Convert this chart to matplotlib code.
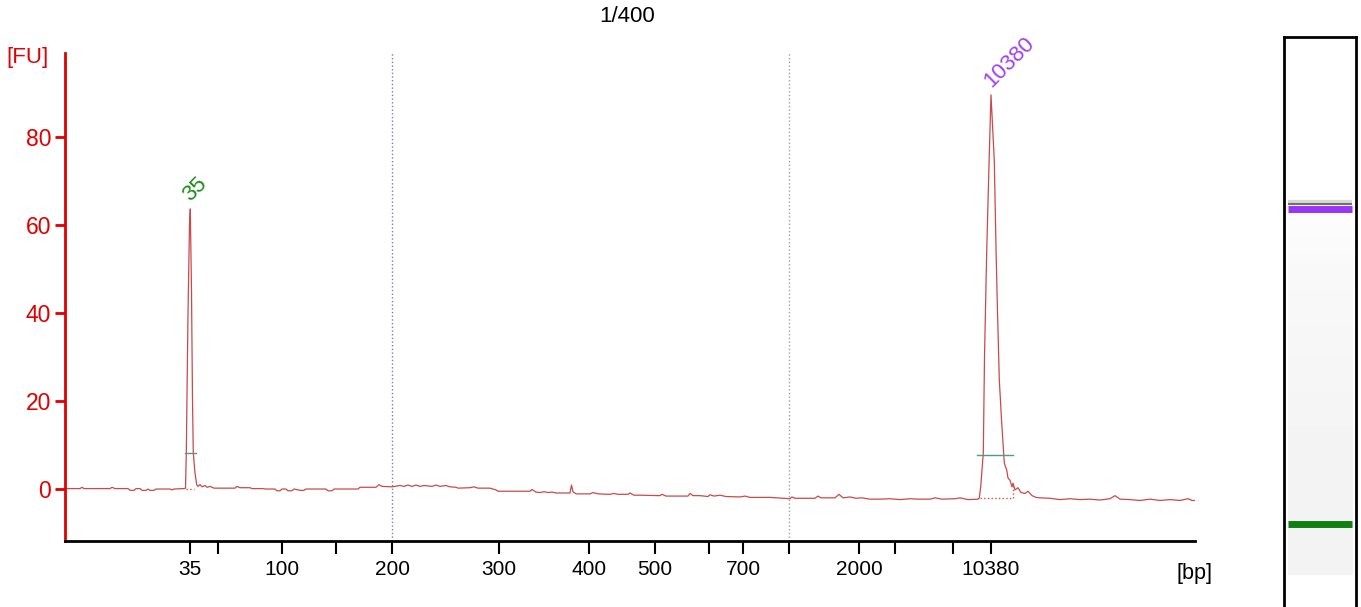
import numpy as np
import matplotlib.pyplot as plt

plt.rcParams['font.family'] = ['Liberation Sans', 'DejaVu Sans']

# ---- electropherogram trace (migration position, fluorescence) ----
trace_time = [
    0.0, 1.5, 1.7, 1.9, 4.5, 4.7, 5.0, 6.3, 6.5, 6.9, 7.1, 7.5, 7.7, 8.1, 8.3,
    8.5, 8.9, 9.1, 10.5, 10.7, 10.9, 11.9,
    12.05, 12.13, 12.3, 12.45, 12.53, 12.65, 12.75, 12.83, 13.0, 13.17, 13.3,
    13.5, 13.7, 14.0, 14.2, 14.5, 14.9, 17.0, 17.2, 17.5, 18.5, 18.7, 19.7,
    20.1, 21.0, 21.2, 21.5, 21.7, 22.1, 22.3, 22.7, 22.9, 23.5, 23.9, 24.1,
    26.1, 26.3, 26.7, 26.9, 29.3, 29.5, 31.1, 31.4, 31.7, 32.7, 33.5, 33.9,
    34.3, 34.7, 35.1, 35.5, 35.9, 36.7, 37.1, 37.5, 38.1, 38.5, 39.1, 39.3,
    40.5, 40.9, 41.3, 42.5, 43.1, 43.3, 46.5, 46.7, 47.1, 47.5, 47.9, 48.3,
    48.7, 49.1, 50.5, 50.65, 50.8, 51.1, 52.5, 52.8, 53.3, 54.5, 54.9, 55.3,
    56.3, 56.5, 56.9, 57.5, 59.5, 59.7, 60.1, 62.3, 62.5, 62.8, 63.5, 64.3,
    64.5, 64.9, 65.5, 66.1, 67.5, 68.0, 68.5, 70.5, 72.5, 72.7, 73.0, 75.0,
    75.3, 75.6, 77.0, 77.4, 77.8, 78.5, 79.1, 79.7, 80.5, 81.5, 82.5, 83.5,
    84.5, 85.3, 86.5, 87.0, 87.7, 89.0, 89.5, 90.3, 91.3,
    91.43, 91.57, 91.83, 91.95, 92.17, 92.43, 92.6, 92.93, 93.1, 93.23, 93.43,
    93.67, 93.93, 94.17, 94.3, 94.5, 94.7, 94.8, 95.0, 95.3, 95.6, 96.0, 96.3,
    96.7, 97.1, 97.5, 98.5, 99.5, 100.5, 101.5, 102.5, 103.5, 104.5, 105.0,
    105.5, 106.5, 107.5, 108.5, 109.5, 110.5, 111.5, 112.3, 112.7, 113.0,
]
trace_fu = [
    0.1, 0.1, 0.4, 0.1, 0.1, 0.4, 0.1, 0.1, -0.3, -0.3, 0.1, 0.1, -0.3, -0.3, 0.0,
    -0.3, -0.3, 0.0, 0.0, -0.2, 0.0, 0.1,
    0.2, 8.0, 40.0, 60.0, 63.6, 45.0, 20.0, 8.2, 3.6, 1.0, 0.6,
    1.0, 0.5, 0.8, 0.4, 0.6, 0.2, 0.2, 0.6, 0.3, 0.3, 0.1, 0.1,
    0.0, 0.0, -0.4, -0.4, 0.0, 0.0, -0.4, -0.4, 0.0, -0.3, -0.3, 0.0,
    0.0, -0.4, -0.4, 0.0, 0.0, 0.4, 0.4, 1.0, 0.6, 0.5, 0.8, 0.6,
    0.9, 0.6, 0.9, 0.6, 0.8, 0.6, 0.9, 0.6, 0.8, 0.5, 0.4, 0.2,
    0.3, 0.5, 0.2, 0.2, -0.2, -0.5, -0.5, -0.1, -0.7, -0.8, -0.6, -0.8,
    -0.7, -0.9, -0.9, 0.9, -0.6, -1.1, -1.1, -0.8, -1.1, -1.2, -1.0, -1.2,
    -1.2, -0.9, -1.4, -1.4, -1.5, -1.2, -1.6, -1.6, -1.0, -1.5, -1.5, -1.7,
    -1.3, -1.6, -1.4, -1.7, -1.8, -1.6, -1.9, -1.9, -2.2, -1.8, -2.1, -2.1,
    -1.6, -2.0, -2.0, -1.2, -2.0, -1.8, -2.1, -2.0, -2.3, -2.3, -2.2, -2.4,
    -2.2, -2.3, -2.3, -2.0, -2.3, -2.2, -2.0, -2.4, -2.3,
    -2.0, 0.5, 8.2, 30.0, 53.9, 76.1, 89.5, 74.5, 54.8, 42.0, 24.8,
    15.0, 5.9, 4.3, 2.5, 2.0, 0.5, 1.3, -0.2, 0.3, -0.8, -1.0, -0.5,
    -1.5, -1.9, -2.0, -2.1, -2.4, -2.2, -2.4, -2.3, -2.5, -2.2, -1.5,
    -2.3, -2.4, -2.6, -2.3, -2.6, -2.4, -2.6, -2.2, -2.6, -2.6,
]

# ---- ladder: migration position of each size ----
ladder_pos = [12.5, 15.3, 21.7, 27.1, 32.7, 43.4, 52.4, 59.0, 64.4, 67.8,
              72.4, 79.4, 83.0, 88.8, 92.6]
ladder_bp = [35, 50, 100, 150, 200, 300, 400, 500, 600, 700,
             1000, 2000, 3000, 7000, 10380]
labelled_bp = [35, 100, 200, 300, 400, 500, 700, 2000, 10380]

# ---- called peaks ----
peak_names = ['35', '10380']
peak_time = [12.53, 92.6]
peak_height = [63.6, 89.5]
peak_colors = ['#1a8a1a', '#a040f0']
peak_start = [12.1, 91.5]
peak_end = [12.9, 94.8]
peak_base = [0.1, -2.1]
peak_mark_fu = [8.2, 7.7]
peak_mark_from = [12.0, 91.2]
peak_mark_to = [13.1, 94.8]

# ---- gel lane ----
gel_band_pos = [0.699, 0.147]
gel_band_colors = ['#9a35f5', '#108010']
gel_bg_pos = [0.056, 0.30, 0.60, 0.70, 0.82]
gel_bg_gray = [0.955, 0.955, 0.965, 0.975, 1.0]

fig = plt.figure(figsize=(13.61, 6.07), dpi=100)
ax = fig.add_axes([65 / 1361, 1 - 541 / 607, 1130 / 1361, 488 / 607])

# dotted guide lines at 200 and 1000 bp
ax.axvline(ladder_pos[ladder_bp.index(200)], color='#7878c8', ls=':', lw=1)
ax.axvline(ladder_pos[ladder_bp.index(1000)], color='#a0a0a8', ls=':', lw=1)

ax.plot(trace_time, trace_fu, color='#c84a4a', lw=0.9)

for i in range(len(peak_names)):
    ax.plot([peak_mark_from[i], peak_mark_to[i]], [peak_mark_fu[i]] * 2,
            color='#4f9a8c', lw=1)
    ax.plot([peak_start[i], peak_end[i]], [peak_base[i]] * 2,
            color='#d05050', ls=':', lw=1)
    ax.annotate(peak_names[i], (peak_time[i], peak_height[i]),
                xytext=(0, 5), textcoords='offset points', rotation=45,
                rotation_mode='anchor', ha='left', va='baseline',
                color=peak_colors[i], fontsize=16)
# right edge of the big peak
ax.plot([peak_end[1], peak_end[1]], [peak_base[1], 1.3],
        color='#d05050', ls=':', lw=1)

ax.set_xlim(0, 113)
ax.set_ylim(-11.8, 99)

ax.set_xticks(ladder_pos)
ax.set_xticklabels([str(b) if b in labelled_bp else '' for b in ladder_bp])
ax.set_yticks([0, 20, 40, 60, 80])

for s in ['top', 'right']:
    ax.spines[s].set_visible(False)
ax.spines['left'].set_color('#e00000')
ax.spines['left'].set_linewidth(2)
ax.spines['bottom'].set_color('black')
ax.spines['bottom'].set_linewidth(2)

ax.tick_params(axis='x', length=9, width=1.5, pad=5, labelsize=15,
               colors='black')
ax.tick_params(axis='y', length=7, width=2, pad=3, labelsize=16.5,
               colors='#e00000')

ax.text(1.0, -0.066, '[bp]', transform=ax.transAxes, ha='center',
        va='center', fontsize=15.5)
fig.text(27 / 1361, 1 - 57 / 607, '[FU]', ha='center', va='center',
         color='#e00000', fontsize=16)
fig.text(627 / 1361, 1 - 17 / 607, '1/400', ha='center', va='center',
         fontsize=16)

# gel lane on the right
gel = fig.add_axes([1284 / 1361, -0.01, 72 / 1361, (607 - 37) / 607 + 0.01])
gel.set_xlim(0, 1)
gel.set_ylim(-0.01, 1)
bg = np.array(gel_bg_gray)[::-1].reshape(-1, 1)
gel.imshow(bg, cmap='gray', vmin=0, vmax=1, aspect='auto',
           interpolation='bilinear',
           extent=[0.05, 0.95, gel_bg_pos[0], gel_bg_pos[-1]])
gel.plot([0.05, 0.95], [gel_band_pos[0] + 0.011] * 2, color='#d8d8d8',
         lw=3, solid_capstyle='butt')
gel.plot([0.05, 0.95], [gel_band_pos[0] + 0.0075] * 2, color='#707070',
         lw=1.5, solid_capstyle='butt')
for pos, c in zip(gel_band_pos, gel_band_colors):
    gel.plot([0.05, 0.95], [pos, pos], color=c, lw=5,
             solid_capstyle='butt')
gel.set_xticks([])
gel.set_yticks([])
for s in gel.spines.values():
    s.set_linewidth(2)
    s.set_color('black')
gel.spines['bottom'].set_visible(False)

fig.savefig('out.png', dpi=100)
